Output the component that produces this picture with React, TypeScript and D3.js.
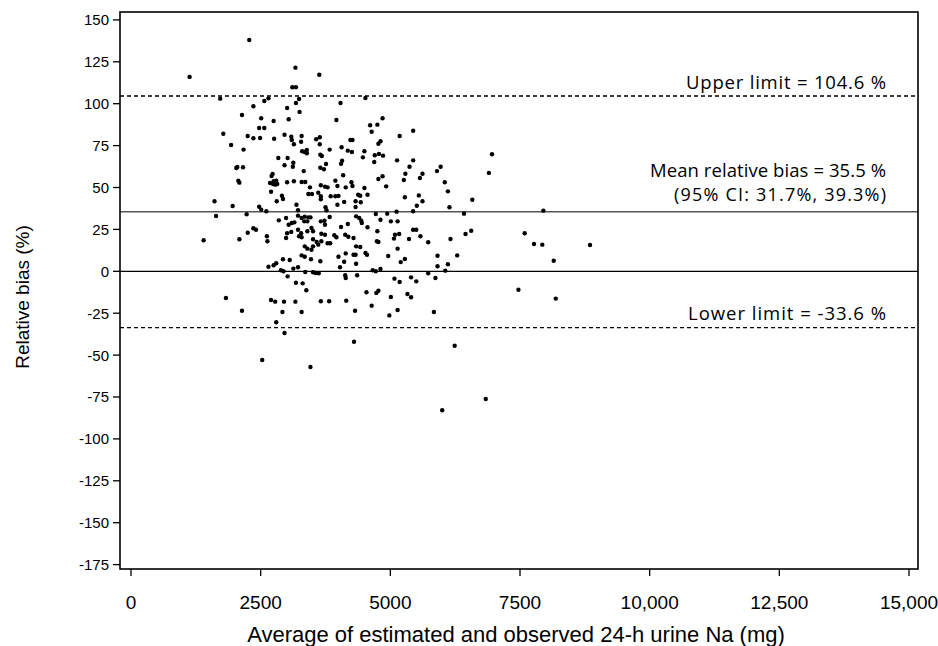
import React from "react";
import * as d3 from "d3";

// [average of estimated and observed 24-h urine Na (mg), relative bias (%)]
const measurements: [number, number][] = [
  [2280,138],[1130,116],[1720,103],[2360,98.5],[2140,93.3],[2470,85.5],[1780,82.1],[2250,80.7],[2360,79.4],[1930,75.4],[2170,72.6],[2050,62.2],[2160,62.1],[2030,61.6],
  [3170,121.5],[3630,117.3],[3110,109.8],[3180,109.8],[2570,101.6],[2650,103.2],[3240,102.8],[3180,100.4],[4040,100.4],[4520,103.4],[3010,97.4],[3250,95.1],[2510,91.3],[2750,89.7],[3040,90.7],[3960,90.3],[2570,85.5],[4610,87.1],[2490,79.5],[2760,79.1],[2960,81.5],[3090,80.3],[3100,78.3],[3140,75.8],[3290,80.7],[3280,77.3],[3570,78.8],[3640,80.0],[3640,75.8],[4230,78.3],[4270,78.3],[3830,72.6],[3300,71.6],[3350,71.2],[3390,72.4],[3390,70.4],[4060,74.0],[4180,72.0],[4260,71.2],[4500,71.6],[4470,68.0],[3650,69.6],[3680,68.8],[2840,67.6],[3020,67.6],[4070,66.0],[4050,64.2],[2960,63.3],[3130,64.8],[3120,62.4],[3760,64.0],[3650,61.8],[3720,60.9],[3330,59.8],[2730,58.1],[2710,56.9],[4090,57.3],
  [4850,91.3],[4750,87.5],[4640,83.3],[5440,83.9],[5180,80.7],[4810,77.6],[4770,76.1],[4700,69.2],[4780,70.0],[4860,69.0],[4690,65.2],[5130,66.2],[5440,66.2],[5370,62.4],[5970,62.4],[5900,59.8],[5290,58.2],[5620,58.2],[4850,56.7],
  [6960,69.8],[6900,58.7],
  [2070,54.1],[2090,52.9],[2680,52.7],[2750,53.7],[2800,54.1],[2820,52.1],[2780,51.7],[2740,52.1],[3010,53.1],[3140,53.7],[2700,47.5],[1610,41.8],[1960,39.0],[2810,41.8],[2910,45.1],[2930,43.1],[3190,39.7],[2470,38.5],[2510,36.8],[2610,35.8],[1640,33.0],[2230,34.0],[3220,36.4],[2850,30.4],[2990,31.8],[3040,27.8],[3100,28.8],[3150,29.2],[1400,18.5],[2090,19.1],[2250,23.0],[2360,25.7],[2410,24.8],[2620,20.9],[2630,17.9],[2990,19.9],[3010,22.7],[3090,23.5],[2650,2.7],[2750,3.6],[2800,4.8],[2930,7.2],[3060,6.7],[2890,0.6],[2940,0],[3130,1.6],[3020,-3.0],[3180,-6.8],[1830,-15.9],[2700,-17.1],[2780,-18.1],[2950,-18.1],[3170,-18.1],[2140,-23.5],[2920,-24.3],[2800,-30.4],
  [3290,53.3],[3360,53.3],[3450,50.1],[3660,51.3],[3740,50.5],[3790,50.1],[3940,54.1],[3980,50.9],[4140,50.1],[4250,53.1],[4270,50.9],[4500,49.7],[4770,55.1],[4920,50.7],[5260,54.5],[5570,55.7],
  [3420,46.1],[3490,46.1],[3610,46.9],[3660,44.8],[3660,43.0],[3850,44.8],[3940,44.8],[4000,45.0],[4380,45.7],[4420,45.1],[4560,45.7],[4110,41.4],[3980,39.7],[4330,41.8],[4430,41.2],[4330,38.4],[3750,38.2],[3770,36.4],[5280,44.2],[5550,45.3],[5620,41.8],[5510,39.1],[5440,35.8],[4720,34.2],[4940,34.4],[5120,35.6],[4810,30.8],[5010,29.8],[5140,29.8],
  [3220,33.2],[3290,31.8],[3350,32.6],[3420,32.2],[3460,32.2],[3340,29.8],[3400,29.8],[3660,29.8],[3730,30.2],[3830,32.4],[3740,27.8],[4340,32.8],[4400,31.8],[4440,30.2],[4450,28.8],[4180,28.2],[4050,26.4],[4560,26.3],[3480,25.8],[3510,23.9],[3220,24.8],[3280,22.7],[3240,20.9],[3290,20.3],[3400,23.9],[3670,22.4],[3740,21.8],[3920,21.5],[3960,20.3],[4130,21.8],[4190,20.6],[4290,19.9],[4750,23.9],[5440,24.8],[5500,24.8],[5090,21.8],[5170,22.3],[5070,19.5],[5360,19.3],[5580,20.9],[5730,17.3],[3510,19.1],[3580,17.5],[3610,15.9],[3670,17.9],[3790,16.7],[3840,16.7],[4770,17.5],[4740,17.9],
  [3350,14.9],[3400,13.5],[3510,14.9],[3480,12.9],[4340,14.9],[4420,14.5],[5140,13.5],[3290,9.5],[3350,8.7],[3470,7.2],[3650,6.0],[4000,8.7],[4140,10.7],[4290,9.9],[4330,9.9],[4520,10.9],[4550,9.9],[4960,9.1],[5280,7.3],[5200,5.5],[5910,9.3],[4110,5.7],[4030,2.4],[4340,4.5],[3220,2.4],
  [3360,-0.4],[3510,-0.6],[3560,-1.0],[3620,-1.2],[4130,-2.4],[4140,-4.0],[4360,-2.4],[4660,0.6],[4720,0],[4810,1.4],[5730,-1.2],[5910,3.0],[5870,-4.0],[5080,-4.4],[5180,-6.4],[5400,-3.6],[5500,-6.0],[3310,-7.2],[3380,-11.3],[4540,-12.5],[4730,-12.9],[4770,-11.6],[5330,-13.5],[5400,-15.5],[5010,-15.3],[3660,-17.9],[3820,-17.9],[4150,-17.5],[4640,-20.5],[4320,-23.5],[5140,-23.1],[3290,-24.3],[4980,-26.3],[5840,-24.3],
  [6050,53.1],[6110,47.7],[6580,42.7],[6140,38.2],[6420,34.4],[7950,36.2],[6160,19.3],[6450,22.3],[6560,24.2],[7590,22.7],[7770,16.3],[7930,15.9],[6290,9.5],[6110,4.2],[6060,0.4],[8150,6.3],[7470,-11.0],[8190,-16.3],
  [2960,-36.8],[4300,-42.0],[2530,-52.9],[3460,-57.1],
  [6240,-44.4],[6840,-76.2],[6000,-82.9],
  [8850,15.7],
];

const xTicks = [0, 2500, 5000, 7500, 10000, 12500, 15000];
const xTickLabels = ["0", "2500", "5000", "7500", "10,000", "12,500", "15,000"];
const yTicks = [150, 125, 100, 75, 50, 25, 0, -25, -50, -75, -100, -125, -150, -175];

const upperLimit = 104.6;
const meanBias = 35.5;
const lowerLimit = -33.6;
const zeroLine = 0;

const upperLabel = "Upper limit = 104.6 %";
const meanLabel = "Mean relative bias = 35.5 %";
const ciLabel = "(95% CI: 31.7%, 39.3%)";
const lowerLabel = "Lower limit = -33.6 %";
const xTitle = "Average of estimated and observed 24-h urine Na (mg)";
const yTitle = "Relative bias (%)";

const W = 938;
const H = 646;
const frame = { left: 120, right: 918, top: 12, bottom: 569 };

const x = d3.scaleLinear().domain([0, 15000]).range([131, 909]);
const y = d3.scaleLinear().domain([-175, 150]).range([564.6, 19.9]);

const narrow = "'Liberation Sans Narrow', 'Arial Narrow', 'Liberation Sans', Arial, sans-serif";
const sans = "'Liberation Sans', Arial, sans-serif";
const annot = "'Open Sans', 'Noto Sans', sans-serif";

function Note({ yPos, text, width, size }: { yPos: number; text: string; width: number; size: number }) {
  const right = 886;
  return (
    <text x={right - width} y={yPos} textLength={width} lengthAdjust="spacing" fontFamily={annot} fontSize={size} fill="#000">
      {text}
    </text>
  );
}

export default function App() {
  return (
    <svg width={W} height={H} style={{ position: "absolute", left: 0, top: 0, background: "#fff" }}>
      <rect x={0} y={0} width={W} height={H} fill="#fff" />
      {/* reference lines */}
      <line x1={frame.left} x2={frame.right} y1={y(upperLimit)} y2={y(upperLimit)} stroke="#000" strokeWidth={1.3} strokeDasharray="4,3" />
      <line x1={frame.left} x2={frame.right} y1={y(lowerLimit)} y2={y(lowerLimit)} stroke="#000" strokeWidth={1.3} strokeDasharray="4,3" />
      <line x1={frame.left} x2={frame.right} y1={y(meanBias)} y2={y(meanBias)} stroke="#555" strokeWidth={1.5} />
      <line x1={frame.left} x2={frame.right} y1={y(zeroLine)} y2={y(zeroLine)} stroke="#000" strokeWidth={1.3} />
      {/* points */}
      {measurements.map(([a, b], i) => (
        <circle key={i} cx={x(a)} cy={y(b)} r={2.2} fill="#000" />
      ))}
      {/* frame */}
      <rect x={frame.left} y={frame.top} width={frame.right - frame.left} height={frame.bottom - frame.top} fill="none" stroke="#000" strokeWidth={1.6} />
      {/* y axis */}
      {yTicks.map((t) => (
        <g key={t}>
          <line x1={frame.left - 7} x2={frame.left} y1={y(t)} y2={y(t)} stroke="#000" strokeWidth={1.3} />
          <text x={frame.left - 11} y={y(t)} dy="0.36em" textAnchor="end" fontFamily={narrow} fontSize={15} fill="#000">{t}</text>
        </g>
      ))}
      {/* x axis */}
      {xTicks.map((t, i) => (
        <g key={t}>
          <line x1={x(t)} x2={x(t)} y1={frame.bottom} y2={frame.bottom + 7} stroke="#000" strokeWidth={1.3} />
          <text x={x(t)} y={609} textAnchor="middle" fontFamily={narrow} fontSize={19} fill="#000">{xTickLabels[i]}</text>
        </g>
      ))}
      <text x={516} y={642} textAnchor="middle" fontFamily={narrow} fontSize={22} fill="#000">{xTitle}</text>
      <text transform="translate(29,297) rotate(-90)" textAnchor="middle" fontFamily={sans} fontSize={19} fill="#000">{yTitle}</text>
      {/* annotations */}
      <Note yPos={89} text={upperLabel} width={200} size={18.5} />
      <Note yPos={177} text={meanLabel} width={236} size={18.5} />
      <Note yPos={201} text={ciLabel} width={212} size={18} />
      <Note yPos={320} text={lowerLabel} width={198} size={18.5} />
    </svg>
  );
}
